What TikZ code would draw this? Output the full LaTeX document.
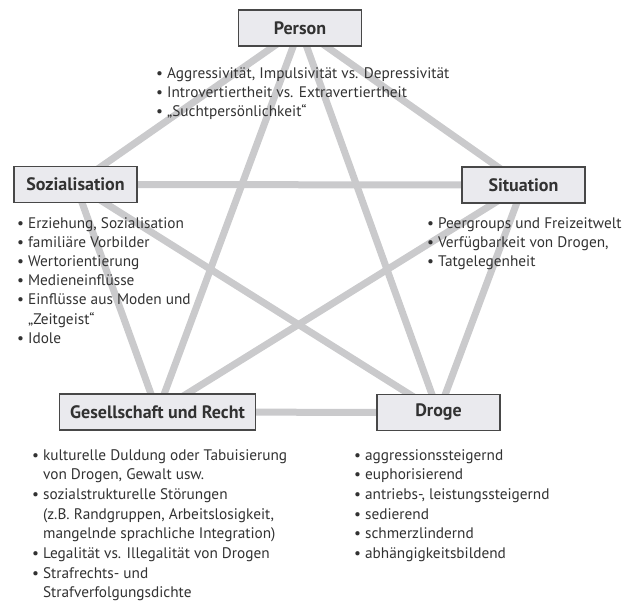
\documentclass[tikz,border=0pt]{standalone}
\usepackage{fontspec}
\setmainfont{PT Sans}
\usetikzlibrary{backgrounds}
\definecolor{linkgray}{RGB}{202,202,204}
\definecolor{boxfill}{RGB}{234,234,238}
\definecolor{boxdraw}{RGB}{72,72,72}
\definecolor{txtgray}{RGB}{50,50,50}
\tikzset{
  factor/.style={draw=boxdraw, line width=1.2pt, fill=boxfill, text=txtgray,
    minimum width=123pt, minimum height=36pt, inner xsep=11pt,
    font=\fontsize{18}{20}\selectfont\bfseries},
  link/.style={draw=linkgray, line width=7pt},
  list/.style={anchor=base west, inner sep=0pt, text=txtgray,
    font=\fontsize{15.3}{19.2}\selectfont},
  longlist/.style={list, font=\fontsize{15.3}{19.7}\selectfont}
}
\newcommand{\bul}{\textbullet}
\begin{document}
\begin{tikzpicture}[x=1pt, y=-1pt]
   \useasboundingbox (0,0) rectangle (622,605);
   % the five factors
   \node[factor] (person) at (300,28) {Person};
   \node[factor] (soz) at (75.5,184.5) {Sozialisation};
   \node[factor] (sit) at (523.5,185) {Situation};
   \node[factor] (ges) at (157.5,412) {Gesellschaft und Recht};
   \node[factor] (droge) at (438.5,412.5) {Droge};
   % every factor linked with every other
   \begin{pgfonlayer}{background}
   \draw[link] (person.center) -- (soz.center);
   \draw[link] (person.center) -- (sit.center);
   \draw[link] (person.center) -- (ges.center);
   \draw[link] (person.center) -- (droge.center);
   \draw[link] (soz.center) -- (sit.center);
   \draw[link] (soz.center) -- (ges.center);
   \draw[link] (soz.center) -- (droge.center);
   \draw[link] (sit.center) -- (ges.center);
   \draw[link] (sit.center) -- (droge.center);
   \draw[link] (ges.center) -- (droge.center);
   \end{pgfonlayer}
   % lists
   \node[list] (perslist) at (156,78) {\begin{tabular}[t]{@{}l@{\hspace{4pt}}l@{}}
     \bul & Aggressivität, Impulsivität vs. Depressivität\\
     \bul & Introvertiertheit vs. Extravertiertheit\\
     \bul & „Suchtpersönlichkeit“
   \end{tabular}};
   \node[list] (sozlist) at (17,228) {\begin{tabular}[t]{@{}l@{\hspace{4pt}}l@{}}
     \bul & Erziehung, Sozialisation\\
     \bul & familiäre Vorbilder\\
     \bul & Wertorientierung\\
     \bul & Medieneinflüsse\\
     \bul & Einflüsse aus Moden und\\
          & „Zeitgeist“\\
     \bul & Idole
   \end{tabular}};
   \node[list] (sitlist) at (427,228) {\begin{tabular}[t]{@{}l@{\hspace{4pt}}l@{}}
     \bul & Peergroups und Freizeitwelt\\
     \bul & Verfügbarkeit von Drogen,\\
     \bul & Tatgelegenheit
   \end{tabular}};
   \node[longlist] (geslist) at (32,460) {\begin{tabular}[t]{@{}l@{\hspace{4pt}}l@{}}
     \bul & kulturelle Duldung oder Tabuisierung\\
          & von Drogen, Gewalt usw.\\
     \bul & sozialstrukturelle Störungen\\
          & (z.B. Randgruppen, Arbeitslosigkeit,\\
          & mangelnde sprachliche Integration)\\
     \bul & Legalität vs. Illegalität von Drogen\\
     \bul & Strafrechts- und\\
          & Strafverfolgungsdichte
   \end{tabular}};
   \node[longlist] (drogelist) at (354,460) {\begin{tabular}[t]{@{}l@{\hspace{4pt}}l@{}}
     \bul & aggressionssteigernd\\
     \bul & euphorisierend\\
     \bul & antriebs-, leistungssteigernd\\
     \bul & sedierend\\
     \bul & schmerzlindernd\\
     \bul & abhängigkeitsbildend
   \end{tabular}};
\end{tikzpicture}
\end{document}
